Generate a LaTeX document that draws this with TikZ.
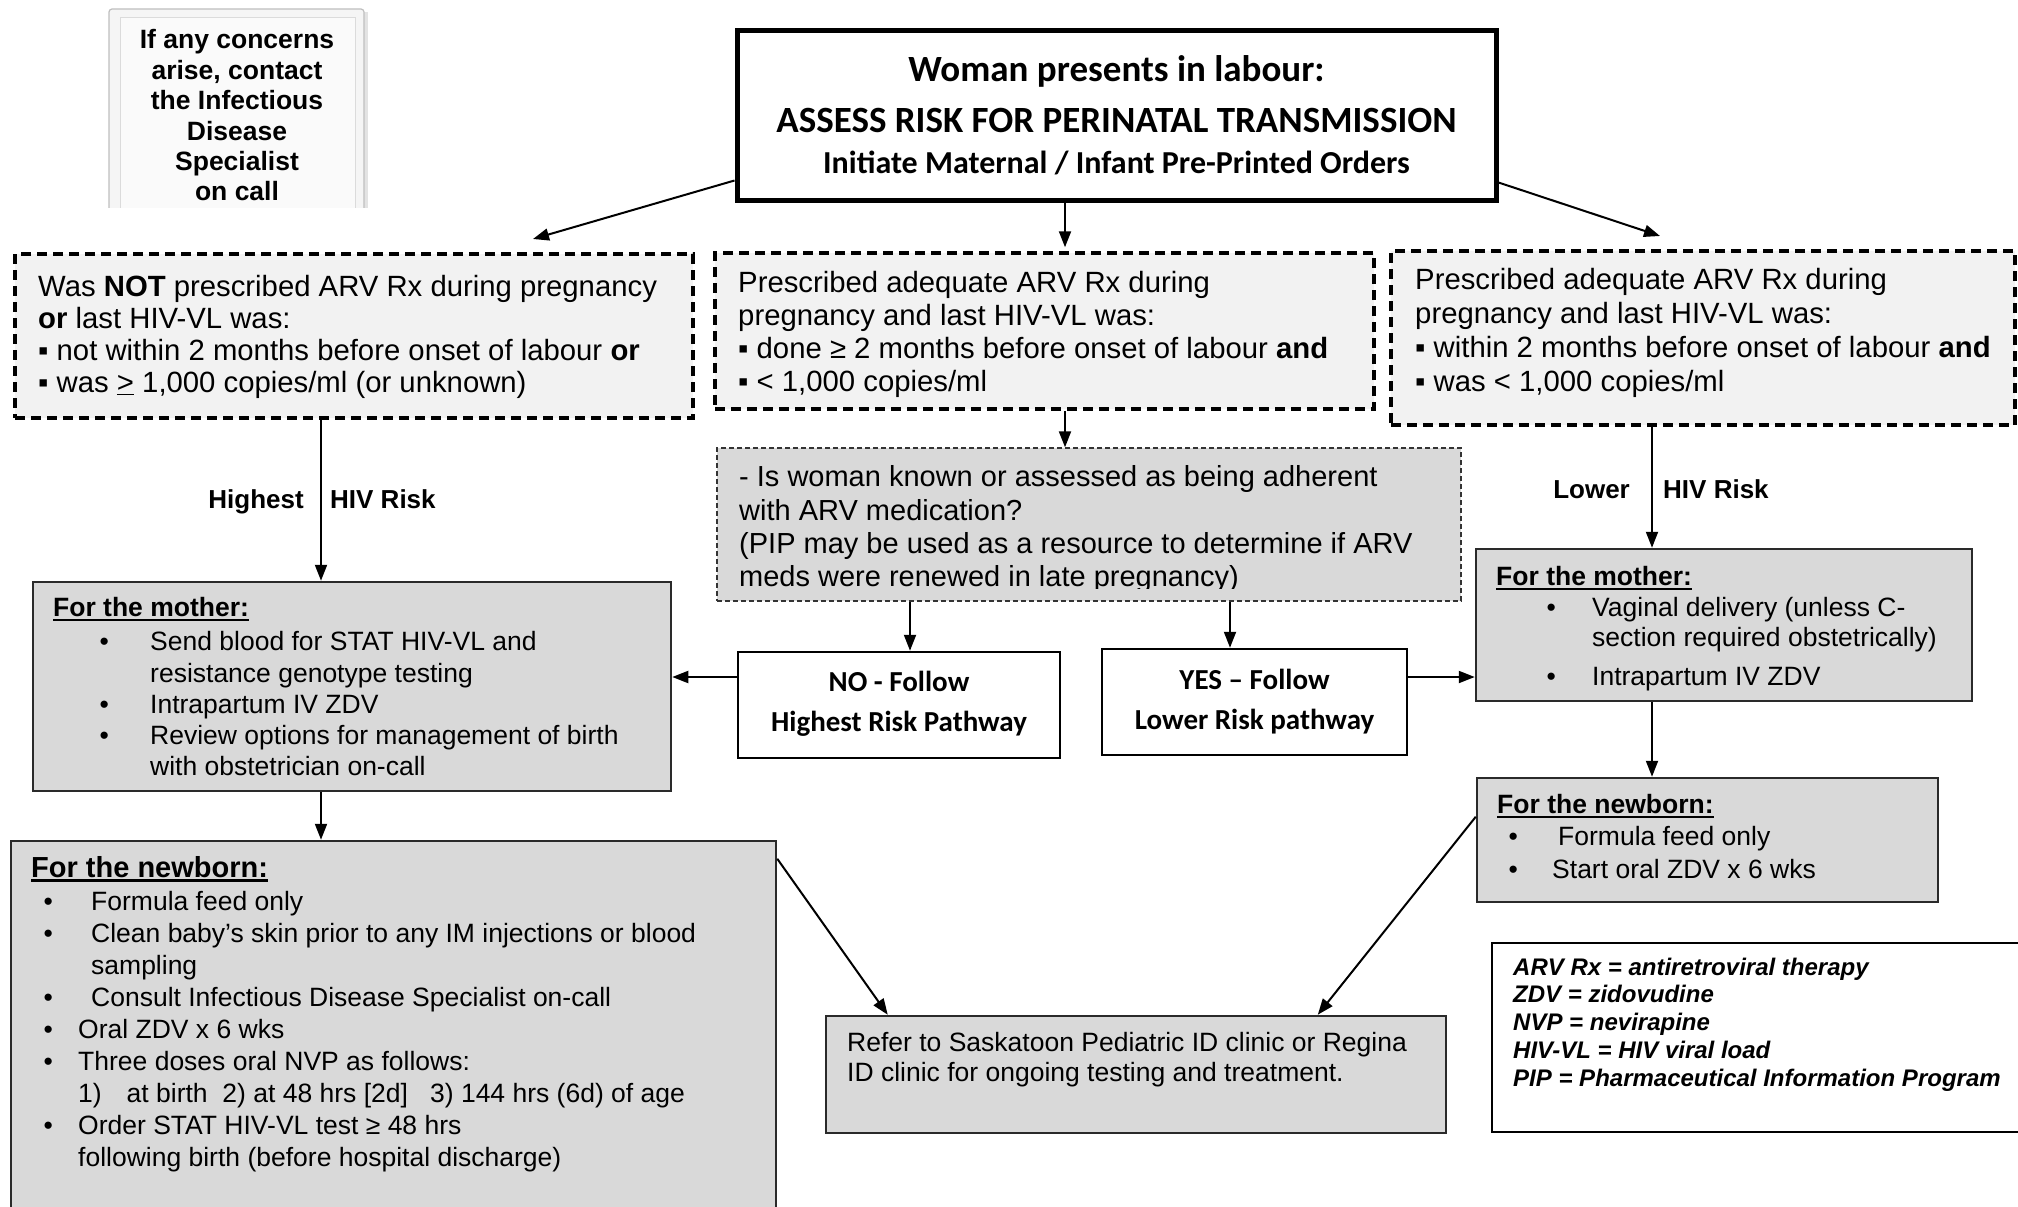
\documentclass[tikz,border=0pt]{standalone}
\usepackage{fontspec}
\setmainfont{Liberation Sans}
\newfontfamily\calib{Carlito}
\usetikzlibrary{arrows.meta,calc}
\definecolor{lightbox}{HTML}{F2F2F2}
\definecolor{graybox}{HTML}{D9D9D9}
\definecolor{boxline}{HTML}{2A2A2A}
\newcommand\ulx[2][2pt]{\setbox0\hbox{#2}\rlap{\rule[-4pt]{\wd0}{#1}}\box0}
\newcommand\fl{\rule{0pt}{0.8em}}
\newcommand\fs[2]{\fontsize{#1}{#2}\selectfont}
\begin{document}
\begin{tikzpicture}[x=1pt,y=-1pt,
  arr/.style={line width=2pt,-{Triangle[length=16pt,width=12pt]}},
  dbox/.style={draw=black,line width=3.5pt,dash pattern=on 10pt off 6pt,fill=lightbox,rectangle,inner sep=0pt},
  qbox/.style={draw=black!80,line width=1.4pt,dash pattern=on 5pt off 3pt,fill=graybox,rectangle,inner sep=0pt},
  gbox/.style={draw=boxline,line width=2.5pt,fill=graybox,rectangle,inner sep=0pt},
  wbox/.style={draw=black,line width=2.5pt,fill=white,rectangle,inner sep=0pt},
  txt/.style={inner sep=0pt,anchor=north west,align=left},
  lbl/.style={inner sep=0pt,font=\fs{26}{30}\bfseries},
]
\useasboundingbox (0,0) rectangle (2018,1207);
\fill[white] (0,0) rectangle (2018,1207);

% concern frame (drawn directly, bottom cut)
\begin{scope}
\clip (100,0) rectangle (380,207);
\fill[gray!22] (112,12) rectangle (368,240);
\draw[gray!50,fill=gray!8,rounded corners=3pt,line width=1.2pt] (109,9) rectangle (364,240);
\draw[gray!28,fill=gray!4,line width=1pt] (120,18) rectangle (355,240);
\end{scope}
\node[inner sep=0pt,anchor=north,align=center,font=\fs{26.5}{30.4}\bfseries] (concern) at (237,27.5)
  {\fl If any concerns\\arise, contact\\the Infectious\\Disease\\Specialist\\on call};

% boxes
\node[wbox,line width=5pt,minimum width=759pt,minimum height=169pt] (title) at (1116.5,115.5) {};
\node[dbox,minimum width=678pt,minimum height=164pt] (box1) at (354,336) {};
\node[dbox,minimum width=659pt,minimum height=156pt] (box2) at (1044.5,331) {};
\node[dbox,minimum width=624pt,minimum height=174pt] (box3) at (1703,338) {};
\node[qbox,minimum width=744pt,minimum height=153pt] (quest) at (1089,524.5) {};
\node[wbox,minimum width=322pt,minimum height=106pt] (no) at (899,705) {};
\node[wbox,minimum width=305pt,minimum height=106pt] (yes) at (1254.5,702) {};
\node[gbox,minimum width=638pt,minimum height=209pt] (motherL) at (352,686.5) {};
\node[gbox,minimum width=496pt,minimum height=152pt] (motherR) at (1724,625) {};
\node[gbox,minimum width=461pt,minimum height=124pt] (newbornR) at (1707.5,840) {};
\node[gbox,minimum width=765pt,minimum height=399pt] (newbornL) at (393.5,1040.5) {};
\node[gbox,minimum width=620pt,minimum height=117pt] (refer) at (1136,1074.5) {};
\node[wbox,minimum width=548pt,minimum height=189pt] (legend) at (1766,1037.5) {};

% title text
\node[inner sep=0pt,anchor=base,font=\calib\fs{37}{40}\bfseries] (t1) at (1116.5,81.8) {Woman presents in labour:};
\node[inner sep=0pt,anchor=base,font=\calib\fs{37}{40}\bfseries] (t2) at (1116.5,132) {ASSESS RISK FOR PERINATAL TRANSMISSION};
\node[inner sep=0pt,anchor=base,font=\calib\fs{32}{36}\bfseries] (t3) at (1116.5,173) {Initiate Maternal / Infant Pre-Printed Orders};

% dashed box texts
\node[txt,font=\fs{29.3}{32}] (b1t) at (38,273.3)
  {\fl Was \textbf{NOT} prescribed ARV Rx during pregnancy\\
   \textbf{or} last HIV-VL was:\\
   ▪ not within 2 months before onset of labour \textbf{or}\\
   ▪ was \underline{>} 1,000 copies/ml (or unknown)};
\node[txt,font=\fs{29.3}{33}] (b2t) at (738,269.3)
  {\fl Prescribed adequate ARV Rx during\\
   pregnancy and last HIV-VL was:\\
   ▪ done ≥ 2 months before onset of labour \textbf{and}\\
   ▪ < 1,000 copies/ml};
\node[txt,font=\fs{29.3}{34}] (b3t) at (1415,266.3)
  {\fl Prescribed adequate ARV Rx during\\
   pregnancy and last HIV-VL was:\\
   ▪ within 2 months before onset of labour \textbf{and}\\
   ▪ was < 1,000 copies/ml};

% question text (last line clipped)
\begin{scope}
\clip (717,448) rectangle (1461,588.5);
\node[txt,font=\fs{29}{33.3}] (qt) at (739,463.4)
  {\fl - Is woman known or assessed as being adherent\\
   with ARV medication?\\
   (PIP may be used as a resource to determine if ARV\\
   meds were renewed in late pregnancy)};
\end{scope}

% NO / YES
\node[inner sep=0pt,anchor=base,font=\calib\fs{29}{32}\bfseries] (no1) at (899,691.3) {NO - Follow};
\node[inner sep=0pt,anchor=base,font=\calib\fs{29}{32}\bfseries] (no2) at (899,731.3) {Highest Risk Pathway};
\node[inner sep=0pt,anchor=base,font=\calib\fs{29}{32}\bfseries] (yes1) at (1254.5,689.3) {YES – Follow};
\node[inner sep=0pt,anchor=base,font=\calib\fs{29}{32}\bfseries] (yes2) at (1254.5,729.3) {Lower Risk pathway};

% labels
\node[lbl,anchor=base east] (hl1) at (304,508.6) {Highest};
\node[lbl,anchor=base west] (hl2) at (330,508.6) {HIV Risk};
\node[lbl,anchor=base east] (ll1) at (1630,498.6) {Lower};
\node[lbl,anchor=base west] (ll2) at (1663,498.6) {HIV Risk};

% mother left
\node[inner sep=0pt,anchor=base west,font=\fs{26.5}{30}\bfseries] (mLh) at (53,616.7) {\ulx{For the mother:}};
\node[txt,font=\fs{26.5}{31.25}] (mLt) at (99.4,629.5)
  {\fl\makebox[50.6pt][l]{•}Send blood for STAT HIV-VL and\\
   \hspace*{50.6pt}resistance genotype testing\\
   \makebox[50.6pt][l]{•}Intrapartum IV ZDV\\
   \makebox[50.6pt][l]{•}Review options for management of birth\\
   \hspace*{50.6pt}with obstetrician on-call};

% mother right
\node[inner sep=0pt,anchor=base west,font=\fs{26.5}{30}\bfseries] (mRh) at (1496,585.7) {\ulx{For the mother:}};
\node[txt,font=\fs{26.5}{30}] (mRt) at (1546.4,595.5)
  {\fl\makebox[45.6pt][l]{•}Vaginal delivery (unless C-\\
   \hspace*{45.6pt}section required obstetrically)\\[9pt]
   \makebox[45.6pt][l]{•}Intrapartum IV ZDV};

% newborn right
\node[inner sep=0pt,anchor=base west,font=\fs{26.5}{30}\bfseries] (nRh) at (1497,813.7) {\ulx{For the newborn:}};
\node[txt,font=\fs{26.5}{33}] (nRt) at (1508.4,824.5)
  {\fl\makebox[49.6pt][l]{•}Formula feed only\\
   \makebox[43.6pt][l]{•}Start oral ZDV x 6 wks};

% newborn left
\node[inner sep=0pt,anchor=base west,font=\fs{29}{32}\bfseries] (nLh) at (31,877.6) {\ulx[2.2pt]{For the newborn:}};
\node[txt,font=\fs{26.5}{31.9}] (nLt) at (43.4,889.5)
  {\fl\makebox[47.6pt][l]{•}Formula feed only\\
   \makebox[47.6pt][l]{•}Clean baby’s skin prior to any IM injections or blood\\
   \hspace*{47.6pt}sampling\\
   \makebox[47.6pt][l]{•}Consult Infectious Disease Specialist on-call\\
   \makebox[34.6pt][l]{•}Oral ZDV x 6 wks\\
   \makebox[34.6pt][l]{•}Three doses oral NVP as follows:\\
   \hspace*{34.6pt}\makebox[48.5pt][l]{1)}at birth~~2) at 48 hrs [2d]~~~3) 144 hrs (6d) of age\\
   \makebox[34.6pt][l]{•}Order STAT HIV-VL test ≥ 48 hrs\\
   \hspace*{34.6pt}following birth (before hospital discharge)};

% refer
\node[txt,font=\fs{26.5}{30}] (rt) at (847,1030.5)
  {\fl Refer to Saskatoon Pediatric ID clinic or Regina\\
   ID clinic for ongoing testing and treatment.};

% legend
\node[txt,font=\fs{24}{27.75}\bfseries\itshape] (lt) at (1513,955.7)
  {\fl ARV Rx = antiretroviral therapy\\
   ZDV = zidovudine\\
   NVP = nevirapine\\
   HIV-VL = HIV viral load\\
   PIP = Pharmaceutical Information Program};

% helper coordinates
\coordinate (e1) at (533,239);
\coordinate (e3) at (1660,236);
\coordinate (xm) at (1065,0);
\coordinate (xl) at (321,0);
\coordinate (xr) at (1652,0);
\coordinate (xno) at (910,0);
\coordinate (xyes) at (1230,0);
\coordinate (yrow) at (0,677);

% connectors
\draw[arr] ($(title.south west)+(0,-22)$) -- (e1);
\draw[arr] (title.south -| xm) -- ($(box2.north -| xm)+(0,-4)$);
\draw[arr] ($(title.south east)+(0,-20)$) -- (e3);
\draw[arr] (box1.south -| xl) -- (motherL.north -| xl);
\draw[arr] (box2.south -| xm) -- (quest.north -| xm);
\draw[arr] (box3.south -| xr) -- (motherR.north -| xr);
\draw[arr] (quest.south -| xno) -- (no.north -| xno);
\draw[arr] (quest.south -| xyes) -- (yes.north -| xyes);
\draw[arr] (no.west |- yrow) -- (motherL.east |- yrow);
\draw[arr] (yes.east |- yrow) -- (motherR.west |- yrow);
\draw[arr] (motherL.south -| xl) -- (newbornL.north -| xl);
\draw[arr] (motherR.south -| xr) -- (newbornR.north -| xr);
\draw[arr] ($(newbornL.north east)+(0,19)$) -- ($(refer.north west)+(63,0)$);
\draw[arr] ($(newbornR.north west)+(0,40)$) -- ($(refer.north west)+(493,0)$);
\end{tikzpicture}
\end{document}
